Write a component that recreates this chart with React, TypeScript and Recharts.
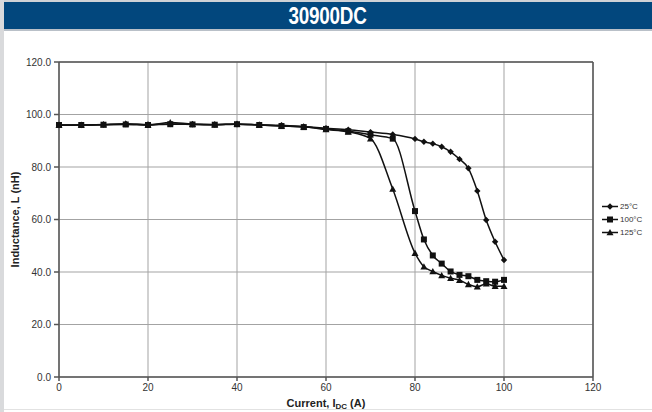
import React from 'react';
import {
  CartesianGrid,
  Label,
  Line,
  LineChart,
  ReferenceLine,
  XAxis,
  YAxis,
} from 'recharts';

// Current, I_DC (A)
const current = [0, 5, 10, 15, 20, 25, 30, 35, 40, 45, 50, 55, 60, 65, 70, 75, 80, 82, 84, 86, 88, 90, 92, 94, 96, 98, 100];

// Inductance, L (nH)
const l25 = [96.0, 96.0, 96.2, 96.4, 96.2, 96.4, 96.3, 96.2, 96.3, 96.1, 95.9, 95.4, 94.8, 94.2, 93.3, 92.4, 90.7, 89.6, 88.9, 87.7, 85.8, 83.0, 79.5, 70.9, 59.8, 51.5, 44.6];
const l100 = [96.0, 96.0, 96.1, 96.2, 96.0, 96.3, 96.2, 96.1, 96.3, 96.0, 95.6, 95.2, 94.5, 93.6, 92.3, 90.8, 63.2, 52.4, 46.3, 43.2, 40.2, 38.9, 38.4, 37.0, 36.5, 36.3, 37.0];
const l125 = [95.9, 96.0, 96.1, 96.5, 96.0, 97.0, 96.3, 96.1, 96.4, 96.0, 95.6, 95.3, 94.3, 93.4, 90.8, 71.6, 47.2, 42.0, 40.2, 38.7, 37.6, 36.9, 35.3, 34.4, 35.5, 34.6, 34.6];

const xTicks = [0, 20, 40, 60, 80, 100, 120];
const yTicks = [0, 20, 40, 60, 80, 100, 120];

const data = current.map((c, i) => ({ current: c, t25: l25[i], t100: l100[i], t125: l125[i] }));

const FONT = '"Liberation Sans", Arial, sans-serif';
const INK = '#111';

const Diamond = ({ cx, cy }: any) =>
  cx == null ? null : (
    <path d={`M${cx},${cy - 3.2}L${cx + 3.2},${cy}L${cx},${cy + 3.2}L${cx - 3.2},${cy}Z`} fill={INK} />
  );

const Square = ({ cx, cy }: any) =>
  cx == null ? null : <rect x={cx - 3} y={cy - 3} width={6} height={6} fill={INK} />;

const Triangle = ({ cx, cy }: any) =>
  cx == null ? null : (
    <path d={`M${cx},${cy - 3.5}L${cx + 3.5},${cy + 2.8}L${cx - 3.5},${cy + 2.8}Z`} fill={INK} />
  );

const legendItems = [
  { name: '25°C', Marker: Diamond },
  { name: '100°C', Marker: Square },
  { name: '125°C', Marker: Triangle },
];

const ChartLegend = () => (
  <div style={{ position: 'absolute', left: 602, top: 200, fontFamily: FONT, fontSize: 8, color: '#333' }}>
    {legendItems.map(({ name, Marker }) => (
      <div key={name} style={{ display: 'flex', alignItems: 'center', height: 13 }}>
        <svg width={17} height={9}>
          <line x1={0} y1={4.5} x2={16} y2={4.5} stroke={INK} strokeWidth={1.5} />
          <Marker cx={8} cy={4.5} />
        </svg>
        <span style={{ marginLeft: 1 }}>{name}</span>
      </div>
    ))}
  </div>
);

const XTitle = ({ viewBox }: any) => {
  const { x, width } = viewBox;
  return (
    <text x={x + width / 2} y={407} textAnchor="middle" fontFamily={FONT} fontSize={11} fontWeight="bold" fill="#222">
      Current, I
      <tspan fontSize={8} dy={2}>DC</tspan>
      <tspan dy={-2}> (A)</tspan>
    </text>
  );
};

const YTitle = ({ viewBox }: any) => {
  const { y, height } = viewBox;
  const cy = y + height / 2;
  return (
    <text
      x={19}
      y={cy}
      transform={`rotate(-90 19 ${cy})`}
      textAnchor="middle"
      fontFamily={FONT}
      fontSize={11}
      fontWeight="bold"
      fill="#222"
    >
      Inductance, L (nH)
    </text>
  );
};

export default function App() {
  return (
    <div style={{ position: 'absolute', left: 0, top: 0, width: 652, height: 412, background: '#fff', overflow: 'hidden' }}>
      <div style={{ position: 'absolute', left: 0, top: 0, width: 652, height: 2, background: '#cfd2d6' }} />
      <div style={{ position: 'absolute', left: 0, top: 0, width: 4, height: 412, background: '#d9dadc' }} />
      <div
        style={{
          position: 'absolute',
          left: 4,
          top: 2,
          width: 648,
          height: 27,
          background: '#02477d',
          borderBottom: '2px solid #b9c0c8',
          textAlign: 'center',
        }}
      >
        <span
          style={{
            display: 'inline-block',
            color: '#fff',
            fontFamily: FONT,
            fontWeight: 'bold',
            fontSize: 23,
            lineHeight: '28px',
            transform: 'scaleX(0.82)',
            letterSpacing: -0.3,
          }}
        >
          30900DC
        </span>
      </div>
      <div style={{ position: 'absolute', left: 4, top: 409, width: 648, height: 1, background: '#e2e2e2' }} />
      <div style={{ position: 'absolute', left: 0, top: 0 }}>
        <LineChart width={652} height={412} data={data} margin={{ top: 62, right: 59, bottom: 0, left: 0 }}>
          <CartesianGrid stroke="#a3a3a3" strokeWidth={1} />
          <XAxis
            dataKey="current"
            type="number"
            domain={[0, 120]}
            ticks={xTicks}
            height={35}
            tickSize={4}
            tickMargin={3}
            stroke="#555"
            strokeWidth={1.5}
            tick={{ fontFamily: FONT, fontSize: 10, fill: '#333' }}
          >
            <Label content={<XTitle />} />
          </XAxis>
          <YAxis
            type="number"
            domain={[0, 120]}
            ticks={yTicks}
            width={59}
            tickSize={5}
            tickMargin={3}
            stroke="#555"
            strokeWidth={1.5}
            tickFormatter={(v: number) => v.toFixed(1)}
            tick={{ fontFamily: FONT, fontSize: 10, fill: '#333' }}
          >
            <Label content={<YTitle />} />
          </YAxis>
          <ReferenceLine x={120} stroke="#555" strokeWidth={1.5} />
          <ReferenceLine y={120} stroke="#555" strokeWidth={1.5} />
          <Line type="monotone" dataKey="t25" name="25°C" stroke={INK} strokeWidth={1.5} dot={<Diamond />} activeDot={false} isAnimationActive={false} />
          <Line type="monotone" dataKey="t100" name="100°C" stroke={INK} strokeWidth={1.5} dot={<Square />} activeDot={false} isAnimationActive={false} />
          <Line type="monotone" dataKey="t125" name="125°C" stroke={INK} strokeWidth={1.5} dot={<Triangle />} activeDot={false} isAnimationActive={false} />
        </LineChart>
      </div>
      <ChartLegend />
    </div>
  );
}
